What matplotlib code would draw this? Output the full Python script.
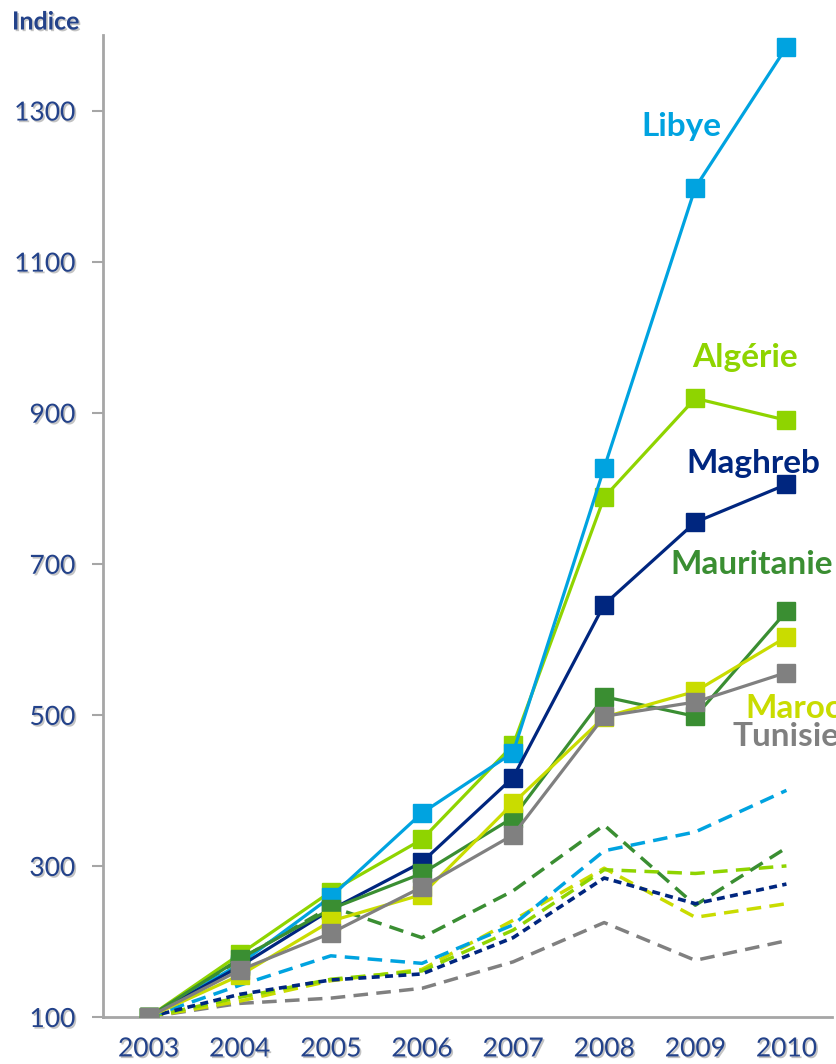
import numpy as np
import matplotlib
matplotlib.use("Agg")
import matplotlib.pyplot as plt
import matplotlib.patheffects as pe

plt.rcParams["font.family"] = ["Lato", "DejaVu Sans"]

years = [2003, 2004, 2005, 2006, 2007, 2008, 2009, 2010]

# solid lines (index, 2003 = 100)
libye      = [100, 170, 259, 370, 450, 827, 1198, 1384]
algerie    = [100, 183, 266, 335, 460, 788, 919, 890]
maghreb    = [100, 167, 242, 305, 417, 646, 755, 805]
mauritanie = [100, 177, 243, 290, 364, 524, 498, 637]
maroc      = [100, 155, 227, 262, 383, 497, 531, 603]
tunisie    = [100, 162, 211, 272, 341, 498, 517, 556]

# dashed lines
libye_d      = [100, 142, 181, 171, 222, 320, 345, 400]
algerie_d    = [100, 126, 150, 161, 215, 295, 290, 300]
maghreb_d    = [100, 130, 149, 157, 205, 284, 250, 276]
mauritanie_d = [100, 176, 246, 205, 267, 354, 248, 324]
maroc_d      = [100, 121, 148, 163, 228, 297, 232, 250]
tunisie_d    = [100, 118, 125, 138, 173, 225, 175, 201]

C_LIB = "#00A3E0"
C_ALG = "#8FD400"
C_MAG = "#00267F"
C_MAU = "#3A8E32"
C_MAR = "#C9DC00"
C_TUN = "#808080"
C_TXT = "#23428A"

fig = plt.figure(figsize=(8.37, 10.64), dpi=100)
ax = fig.add_axes([103 / 837, 1 - 1017 / 1064, 729 / 837, 982 / 1064])

x = np.array(years)

# dashed series first
dash_long = (4.2, 2.4)
for vals, col in [(tunisie_d, C_TUN), (maroc_d, C_MAR), (algerie_d, C_ALG),
                  (libye_d, C_LIB), (mauritanie_d, C_MAU)]:
    ax.plot(x, vals, color=col, lw=2.5, dashes=dash_long, zorder=2)
ax.plot(x, maghreb_d, color=C_MAG, lw=2.6, dashes=(2.2, 1.5), zorder=3)

# solid series with square markers
for vals, col in [(algerie, C_ALG), (libye, C_LIB), (maghreb, C_MAG),
                  (mauritanie, C_MAU), (maroc, C_MAR), (tunisie, C_TUN)]:
    ax.plot(x, vals, color=col, lw=2.3, marker="s", ms=12.5,
            mec=col, mfc=col, zorder=4)

# series labels
lab = dict(fontsize=24, fontweight="bold", clip_on=False, va="center")
ax.text(2008.85, 1279, "Libye", color=C_LIB, ha="center", **lab)
ax.text(2009.55, 973, "Algérie", color=C_ALG, ha="center", **lab)
ax.text(2009.64, 833, "Maghreb", color=C_MAG, ha="center", **lab)
ax.text(2008.73, 699, "Mauritanie", color=C_MAU, ha="left", **lab)
ax.text(2009.55, 509, "Maroc", color=C_MAR, ha="left", **lab)
ax.text(2009.41, 471, "Tunisie", color=C_TUN, ha="left", **lab)

ax.set_xlim(2002.5, 2010.5)
ax.set_ylim(100, 1400)
ax.set_xticks(years)
ax.set_xticklabels([str(y) for y in years])
ax.set_yticks(range(100, 1400, 200))

for s in ["top", "right"]:
    ax.spines[s].set_visible(False)
for s in ["left", "bottom"]:
    ax.spines[s].set_color("#A6A6A6")
    ax.spines[s].set_linewidth(2)
ax.tick_params(axis="y", length=8, width=1.5, color="#A6A6A6",
               labelsize=19, labelcolor=C_TXT, pad=12)
ax.tick_params(axis="x", length=0, labelsize=19, labelcolor=C_TXT, pad=14)

shadow = [pe.SimplePatchShadow(offset=(1.2, -1.2), shadow_rgbFace="#555555",
                               alpha=0.35), pe.Normal()]
for t in ax.get_xticklabels() + ax.get_yticklabels():
    t.set_path_effects(shadow)

fig.text(12 / 837, 1 - 22 / 1064, "Indice", color=C_TXT, fontsize=18,
         fontweight="bold", ha="left", va="center", path_effects=shadow)

fig.savefig("out.png", dpi=100)
